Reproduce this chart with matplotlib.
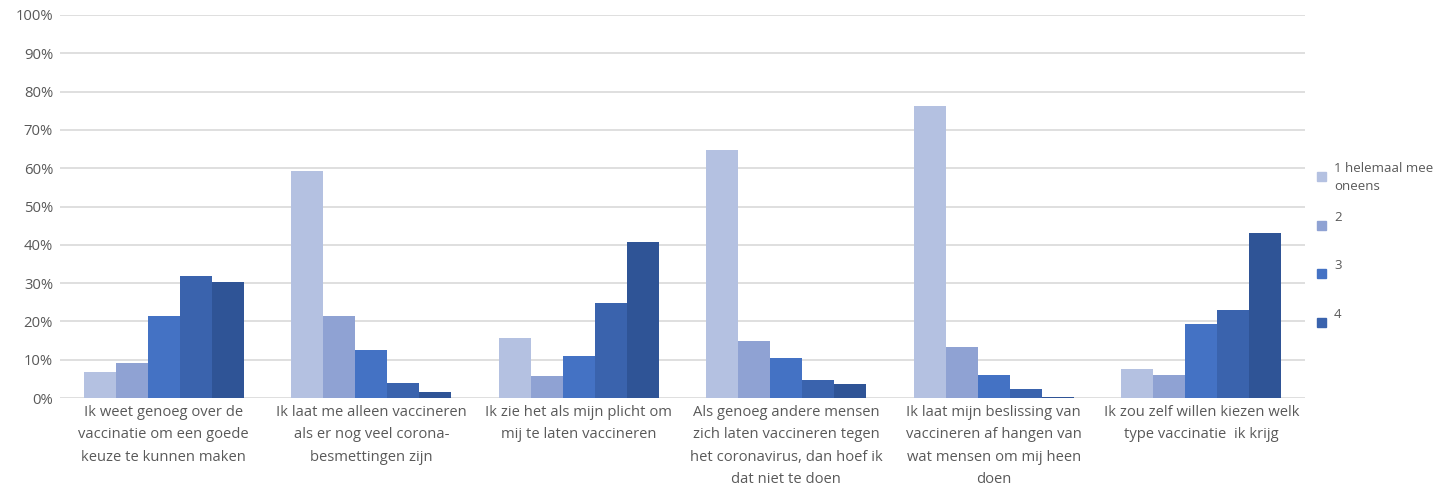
import matplotlib
matplotlib.use("Agg")
import matplotlib.pyplot as plt
import numpy as np
from matplotlib.patches import Rectangle

categories = [
    "Ik weet genoeg over de\nvaccinatie om een goede\nkeuze te kunnen maken",
    "Ik laat me alleen vaccineren\nals er nog veel corona-\nbesmettingen zijn",
    "Ik zie het als mijn plicht om\nmij te laten vaccineren",
    "Als genoeg andere mensen\nzich laten vaccineren tegen\nhet coronavirus, dan hoef ik\ndat niet te doen",
    "Ik laat mijn beslissing van\nvaccineren af hangen van\nwat mensen om mij heen\ndoen",
    "Ik zou zelf willen kiezen welk\ntype vaccinatie  ik krijg",
]
series_names = ["1 helemaal mee\noneens", "2", "3", "4", "5"]
s1 = [6.7, 59.3, 15.7, 64.8, 76.3, 7.6]
s2 = [9.1, 21.3, 5.8, 14.8, 13.4, 6.0]
s3 = [21.3, 12.5, 11.0, 10.5, 5.9, 19.3]
s4 = [31.9, 3.9, 24.8, 4.6, 2.3, 22.9]
s5 = [30.3, 1.5, 40.7, 3.6, 0.3, 43.0]
series = [s1, s2, s3, s4, s5]
colors = ["#b4c1e1", "#8fa2d3", "#4472c4", "#3a63ad", "#2f5496"]
yticks = [0, 10, 20, 30, 40, 50, 60, 70, 80, 90, 100]
legend_shown = 4

plt.rcParams['font.family'] = ['Open Sans', 'DejaVu Sans']
fig = plt.figure(figsize=(14.35, 4.88), dpi=100)
ax = fig.add_axes([60/1435, (488-398)/488, (1305-60)/1435, (398-15)/488])

n = len(categories)
x = np.arange(n)
bw = 0.154
for i, (vals, c) in enumerate(zip(series, colors)):
    ax.bar(x + (i - 2) * bw, vals, width=bw, color=c, zorder=3)

ax.set_xlim(-0.5, n - 0.5)
ax.set_ylim(0, 100)
ax.set_yticks(yticks)
ax.set_yticklabels([f"{t}%" for t in yticks], fontsize=10.7, color="#595959")
ax.grid(axis="y", color="#dcdcdc", linewidth=1.3, zorder=0)
for s in ax.spines.values():
    s.set_visible(False)
ax.tick_params(axis="both", length=0)
ax.tick_params(axis="y", pad=5)
ax.set_xticks(x)
ax.set_xticklabels(categories, fontsize=10.6, color="#595959", linespacing=1.68, va="top")
ax.tick_params(axis="x", pad=5)

# legend
ys = [176, 225, 273, 322]
for i in range(legend_shown):
    yy = ys[i]
    fig.patches.append(Rectangle((1317/1435, (488-yy-5)/488), 9/1435, 9/488,
                                 transform=fig.transFigure, color=colors[i]))
    fig.text(1334/1435, (488-yy+14)/488, series_names[i], fontsize=9.5,
             color="#595959", va="top", ha="left", linespacing=1.45)

fig.savefig("out.png", dpi=100)
